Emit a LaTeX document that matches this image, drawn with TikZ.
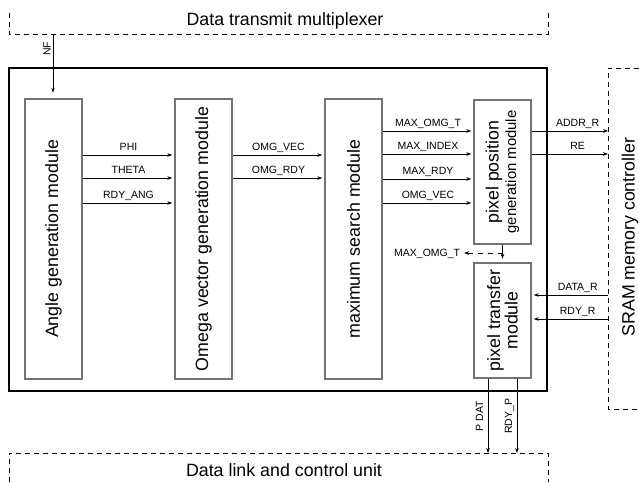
\documentclass[tikz,border=0pt]{standalone}
\usepackage{fontspec}
\setmainfont{Liberation Sans}
\usetikzlibrary{arrows.meta}

\newcommand{\bigfont}{\fontsize{17.8}{17.5}\selectfont}
\newcommand{\subfont}{\fontsize{14.8}{16}\selectfont}
\newcommand{\sigfont}{\fontsize{10.5}{12}\selectfont}

\begin{document}
\begin{tikzpicture}[x=1pt,y=-1pt,
  module/.style={draw=black!55,line width=2.4pt,fill=white,inner sep=0pt},
  sig/.style={-{Stealth[length=5pt,width=3.6pt]},line width=0.8pt,shorten >=1.5pt},
  lbl/.style={font=\sigfont,inner sep=2pt,text depth=2.5pt},
  unit/.style={dash pattern=on 5pt off 4pt,line width=0.9pt}]
  \useasboundingbox (0,0) rectangle (639,482);
  % surrounding units (open dashed boxes)
  \draw[unit] (9,13)--(9,34)--(548,34)--(548,13);
  \node[font=\bigfont] (mux) at (285,21) {Data transmit multiplexer};
  \draw[unit] (639,68)--(608,68)--(608,409)--(639,409);
  \node[font=\bigfont,rotate=90] (sram) at (630,237) {SRAM memory controller};
  \draw[unit] (9,482)--(9,453)--(548,453)--(548,482);
  \node[font=\bigfont] (dlc) at (284,470) {Data link and control unit};
  % core
  \draw[line width=2.8pt] (9,68) rectangle (547,391);
  \node[module,minimum width=57pt,minimum height=280pt] (ang) at (53.5,239) {};
  \node[module,minimum width=57pt,minimum height=280pt] (omg) at (203.5,239) {};
  \node[module,minimum width=57pt,minimum height=280pt] (max) at (353.5,239) {};
  \node[module,minimum width=57pt,minimum height=144pt] (ppos) at (502.5,172) {};
  \node[module,minimum width=57pt,minimum height=115pt] (ptr) at (502.5,320.5) {};
  \node[rotate=90,font=\bigfont] at (ang) {Angle generation module};
  \node[rotate=90,font=\bigfont] at (omg) {Omega vector generation module};
  \node[rotate=90,font=\bigfont] at (max) {maximum search module};
  \node[rotate=90,align=center,font=\bigfont] at (ppos) {pixel position\\{\subfont generation module}};
  \node[rotate=90,align=center,font=\bigfont] at (ptr) {pixel transfer\\module};
  % signals
  \coordinate (nf) at (53,34);
  \draw[sig,shorten >=5pt] (nf) -- node[lbl,text depth=0pt,rotate=90,anchor=south,pos=0.23]{NF} (ang.north -| nf);
  \foreach \txt/\yy in {PHI/155,THETA/178,RDY\_ANG/203}
    \draw[sig] (ang.east |- 0,\yy) -- node[lbl,above]{\txt} (omg.west |- 0,\yy);
  \foreach \txt/\yy in {OMG\_VEC/155,OMG\_RDY/178}
    \draw[sig] (omg.east |- 0,\yy) -- node[lbl,above]{\txt} (max.west |- 0,\yy);
  \foreach \txt/\yy in {MAX\_OMG\_T/131,MAX\_INDEX/154,MAX\_RDY/179,OMG\_VEC/203}
    \draw[sig] (max.east |- 0,\yy) -- node[lbl,above]{\txt} (ppos.west |- 0,\yy);
  \coordinate (sA) at (608,131);
  \coordinate (sB) at (608,154);
  \coordinate (sC) at (608,295);
  \coordinate (sD) at (608,319);
  \draw[sig,shorten >=0pt] (ppos.east |- sA) -- node[lbl,above,pos=0.6]{ADDR\_R} (sA);
  \draw[sig,shorten >=0pt] (ppos.east |- sB) -- node[lbl,above,pos=0.6]{RE} (sB);
  \draw[sig] (sC) -- node[lbl,above,pos=0.4]{DATA\_R} (ptr.east |- sC);
  \draw[sig] (sD) -- node[lbl,above,pos=0.4]{RDY\_R} (ptr.east |- sD);
  \draw[sig,shorten >=3pt] (ppos.south) -- (ptr.north);
  \coordinate (tap) at (ppos.south |- 0,253);
  \draw[sig,dash pattern=on 5pt off 5pt] (tap) -- ++(-40,0) node[lbl,left,text depth=0pt]{MAX\_OMG\_T};
  \coordinate (pd) at (488,453);
  \coordinate (rp) at (517,453);
  \draw[sig,shorten >=0pt] (ptr.south -| pd) -- node[lbl,rotate=90,anchor=south]{P DAT} (pd);
  \draw[sig,shorten >=0pt] (ptr.south -| rp) -- node[lbl,rotate=90,anchor=south]{RDY\_P} (rp);
\end{tikzpicture}
\end{document}
